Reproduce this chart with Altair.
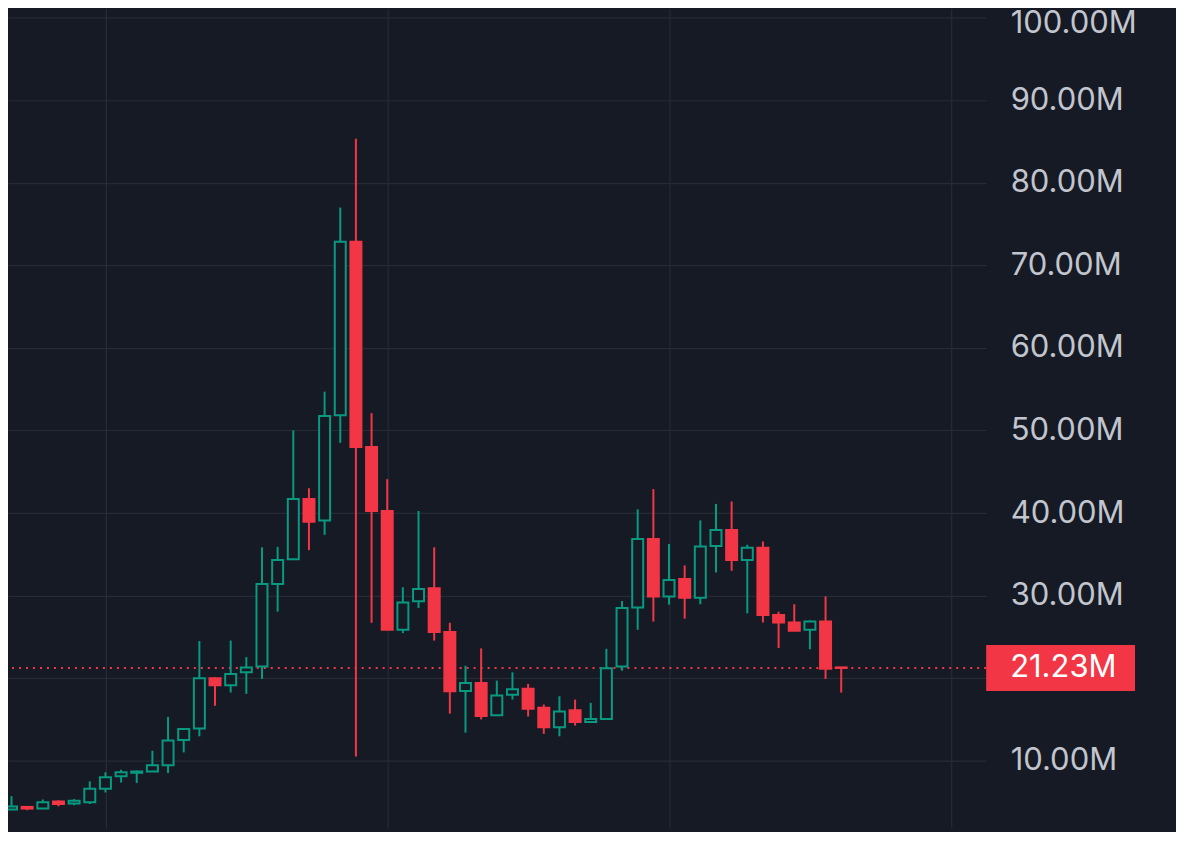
import altair as alt
import pandas as pd

# ---- data (values in millions) ----
opens = [4.1, 4.4, 4.2, 5.07, 4.8, 4.95, 6.6, 8.1, 8.55, 8.7,
         9.45, 12.5, 13.9, 20.0, 19.15, 20.7, 21.4, 31.4, 34.4, 41.7,
         39.1, 51.85, 72.85, 48.0, 40.25, 25.85, 29.3, 30.9, 25.6, 18.45,
         19.4, 15.5, 18.0, 18.7, 16.4, 14.05, 16.1, 14.7, 15.05, 21.4,
         28.55, 36.85, 29.9, 32.0, 29.75, 36.0, 37.95, 34.3, 35.8, 27.65,
         26.75, 25.85, 26.85, 21.3]
highs = [5.7, 4.45, 5.3, 5.2, 5.35, 7.5, 8.6, 8.9, 8.8, 11.2,
         15.3, 13.85, 24.5, 20.1, 24.55, 22.55, 35.85, 35.9, 50.0, 43.0,
         54.7, 77.0, 85.35, 52.1, 44.1, 31.0, 40.25, 35.85, 26.7, 21.5,
         23.6, 19.7, 20.7, 19.3, 16.8, 17.8, 17.4, 17.0, 23.55, 29.35,
         40.45, 42.9, 36.25, 33.65, 39.1, 41.1, 41.4, 36.15, 36.55, 28.05,
         28.95, 27.0, 29.9, 21.35]
lows = [4.05, 4.0, 4.15, 4.47, 4.6, 4.75, 6.15, 7.35, 7.3, 8.7,
        8.5, 11.0, 12.95, 16.65, 18.25, 18.1, 19.9, 28.05, 34.3, 35.5,
        37.35, 48.5, 10.5, 26.7, 25.85, 25.45, 28.5, 24.55, 15.7, 13.4,
        15.0, 15.5, 17.4, 15.35, 13.25, 12.95, 14.25, 14.7, 15.05, 20.9,
        25.85, 26.85, 28.9, 27.2, 28.95, 32.8, 33.0, 27.85, 26.75, 23.65,
        25.75, 23.5, 19.9, 18.25]
closes = [4.45, 4.2, 4.95, 4.75, 5.15, 6.6, 8.0, 8.6, 8.7, 9.45,
          12.45, 13.85, 20.0, 19.15, 20.5, 21.3, 31.4, 34.3, 41.7, 38.95,
          51.75, 72.85, 48.0, 40.25, 25.85, 29.15, 30.8, 25.6, 18.4, 19.4,
          15.4, 17.9, 18.65, 16.3, 14.05, 15.95, 14.7, 15.05, 21.2, 28.5,
          36.85, 29.9, 31.9, 29.75, 35.95, 37.95, 34.3, 35.8, 27.65, 26.75,
          25.75, 26.85, 21.15, 21.23]
last_price = [21.23]
y_ticks = [10, 20, 30, 40, 50, 60, 70, 80, 90, 100]
x_grid = [6, 24, 42, 60]

BG = "#161a25"
UP = "#089981"
DOWN = "#f23645"
GRID = "#272b36"
LABEL = "#c2c5cd"
FONT = "Inter"
FS = 31

df = pd.DataFrame({
    "i": list(range(len(opens))),
    "open": opens, "high": highs, "low": lows, "close": closes,
})
df["dir"] = ["up" if c >= o else "down" for o, c in zip(opens, closes)]

xscale = alt.Scale(domain=[0.095, 61.94], nice=False, zero=False)
yscale = alt.Scale(domain=[1.888, 101.13], nice=False, zero=False)
stroke_scale = alt.Scale(domain=["up", "down"], range=[UP, DOWN])
fill_scale = alt.Scale(domain=["up", "down"], range=[BG, DOWN])

x_enc = alt.X("i:Q", scale=xscale,
              axis=alt.Axis(values=x_grid, labels=False, ticks=False, domain=False,
                            grid=True, gridColor=GRID, gridWidth=1.2, title=None))
# the 20M label sits under the last-price tag, so it is left blank (its grid line stays)
y_axis = alt.Axis(values=y_ticks, orient="right", labels=True, ticks=False, domain=False,
                  grid=True, gridColor=GRID, gridWidth=1.2, title=None,
                  labelExpr="datum.value == 20 ? '' : format(datum.value, '.2f') + 'M'",
                  labelColor=LABEL, labelFont=FONT, labelFontSize=FS,
                  labelPadding=24, labelAlign="left", labelBaseline="middle",
                  labelOffset={"condition": {"test": "datum.value >= 100", "value": 6}, "value": 0},
                  labelBound=False, labelOverlap=False)

base = alt.Chart(df)

wicks = base.mark_rule(strokeWidth=2).encode(
    x=x_enc,
    y=alt.Y("low:Q", scale=yscale, axis=y_axis),
    y2="high:Q",
    stroke=alt.Stroke("dir:N", scale=stroke_scale, legend=None),
)

bodies = base.mark_bar(width=11, strokeWidth=2, opacity=1).encode(
    x=alt.X("i:Q", scale=xscale),
    y=alt.Y("open:Q", scale=yscale),
    y2="close:Q",
    stroke=alt.Stroke("dir:N", scale=stroke_scale, legend=None),
    fill=alt.Fill("dir:N", scale=fill_scale, legend=None),
)

price_df = pd.DataFrame({"p": last_price})
price_df["txt"] = [f"{v:.2f}M" for v in last_price]

dotted = alt.Chart(price_df).mark_rule(color=DOWN, strokeWidth=2, strokeDash=[2, 5]).encode(
    y=alt.Y("p:Q", scale=yscale),
)

box = alt.Chart(price_df).mark_rule(color=DOWN, strokeWidth=46, strokeCap="butt").encode(
    y=alt.Y("p:Q", scale=yscale),
    x=alt.value(979),
    x2=alt.value(1128),
)

box_text = alt.Chart(price_df).mark_text(
    align="left", baseline="middle", color="#ffffff", font=FONT, fontSize=FS
).encode(
    y=alt.Y("p:Q", scale=yscale),
    x=alt.value(1003),
    text="txt:N",
)

chart = alt.layer(dotted, wicks, bodies, box, box_text).properties(
    width=979, height=820,
    background=BG,
    padding={"left": 0, "top": 0, "right": 190, "bottom": 4},
    autosize=alt.AutoSizeParams(type="none"),
).configure_view(stroke=None, fill=BG)

chart.save("out.html", embed_options={"renderer": "svg", "actions": False})
